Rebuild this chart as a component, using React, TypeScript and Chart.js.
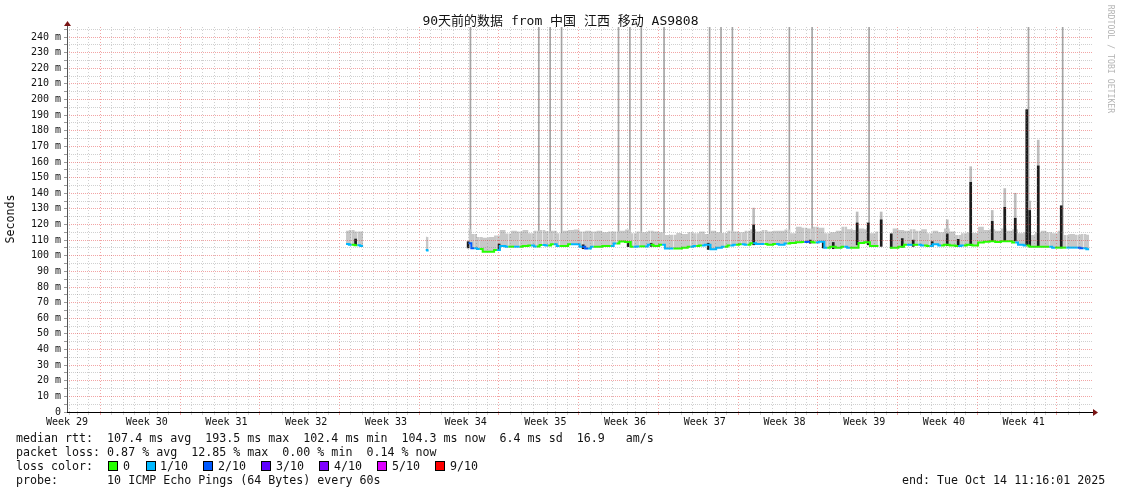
import React, { useEffect, useRef } from 'react';
import { Chart, registerables } from 'chart.js';

Chart.register(...registerables);

const MONO = "'DejaVu Sans Mono', 'Liberation Mono', monospace";
const TITLE_FONT = "'DejaVu Sans Mono', 'Noto Sans CJK SC', monospace";

const chartTitle = '90天前的数据 from 中国 江西 移动 AS9808';

// ---- x axis (days since start of the 90 day window) ----
const xMinDay = 0;
const xMaxDay = 90;
const weekLabelDays = [0, 7, 14, 21, 28, 35, 42, 49, 56, 63, 70, 77, 84];
const weekLabels = ['Week 29', 'Week 30', 'Week 31', 'Week 32', 'Week 33', 'Week 34', 'Week 35', 'Week 36', 'Week 37', 'Week 38', 'Week 39', 'Week 40', 'Week 41'];
const firstMidnightDay = 0.425;
const firstWeekStartDay = 3.425;

// ---- y axis (milliseconds) ----
const yMax = 246.4;
const yMajorTicks = [0, 10, 20, 30, 40, 50, 60, 70, 80, 90, 100, 110, 120, 130, 140, 150, 160, 170, 180, 190, 200, 210, 220, 230, 240];
const yMinorTicks = [5, 15, 25, 35, 45, 55, 65, 75, 85, 95, 105, 115, 125, 135, 145, 155, 165, 175, 185, 195, 205, 215, 225, 235, 245];

// ---- loss colours ----
const lossLegendLabels = ['0', '1/10', '2/10', '3/10', '4/10', '5/10', '9/10'];
const lossLegendColors = ['#26ff00', '#00b8ff', '#0059ff', '#5e00ff', '#7e00ff', '#dd00ff', '#ff0000'];

// ---- median rtt samples ----
const sampleDays = [
  24.5, 25.0, 25.5, 26.0, 26.5,
  31.5, 31.75, 32.0,
  35.25, 35.75, 36.25, 36.75, 37.25, 37.75, 38.25, 38.75, 39.25, 39.75,
  40.25, 40.75, 41.25, 41.75, 42.25, 42.75, 43.25, 43.75, 44.25, 44.75,
  45.25, 45.75, 46.25, 46.75, 47.25, 47.75, 48.25, 48.75, 49.25, 49.75,
  50.25, 50.75, 51.25, 51.75, 52.25, 52.75, 53.25, 53.75, 54.25, 54.75,
  55.25, 55.75, 56.25, 56.75, 57.25, 57.75, 58.25, 58.75, 59.25, 59.75,
  60.25, 60.75, 61.25, 61.75, 62.25, 62.75, 63.25, 63.75, 64.25, 64.75,
  65.25, 65.75, 66.25, 66.75, 67.25, 67.75, 68.25, 68.75, 69.25, 69.75,
  70.25, 70.75, 71.25, 71.75, 72.25, 72.75, 73.25, 73.75, 74.25, 74.75,
  75.25, 75.75, 76.25, 76.75, 77.25, 77.75, 78.25, 78.75, 79.25, 79.75,
  80.25, 80.75, 81.25, 81.75, 82.25, 82.75, 83.25, 83.75, 84.25, 84.75,
  85.25, 85.75, 86.25, 86.75, 87.25, 87.75, 88.25, 88.75, 89.25, 89.75,
];
const medianRtt = [
  107.5, 107.0, 106.8, 106.2, null,
  103.7, 103.4, null,
  108.0, 104.8, 104.3, 102.6, 102.6, 103.7, 106.2, 105.8, 105.8, 105.8,
  106.2, 106.5, 106.0, 106.9, 106.5, 107.3, 106.3, 106.3, 107.3, 107.3,
  105.8, 104.7, 105.8, 105.8, 106.2, 106.2, 107.9, 109.2, 108.8, 105.8,
  106.0, 106.0, 107.0, 106.2, 107.0, 104.7, 104.7, 104.7, 105.2, 105.8,
  106.2, 106.5, 107.0, 104.1, 105.2, 105.8, 106.5, 107.0, 107.3, 107.0,
  108.0, 107.5, 107.5, 107.0, 107.5, 107.0, 107.9, 108.2, 108.6, 108.8,
  109.0, 108.5, 109.0, 105.2, 105.8, 105.2, 105.8, 105.2, 105.2, 108.2,
  108.6, 106.2, 106.2, null, 105.2, 105.2, 105.8, 107.0, 107.0, 107.0,
  106.5, 106.2, 107.3, 106.5, 107.0, 106.5, 106.2, 106.5, 107.0, 106.5,
  108.5, 109.0, 109.3, 108.8, 109.3, 109.3, 108.5, 107.0, 106.5, 105.8,
  105.8, 105.8, 105.8, 105.2, 105.2, 105.2, 105.2, 105.2, 104.8, 104.1,
];
const lossLevel = [
  1, 0, 1, 2, 0,
  1, 0, 0,
  2, 1, 0, 0, 0, 1, 1, 0, 1, 0,
  0, 1, 0, 1, 0, 1, 0, 0, 1, 1,
  2, 1, 0, 0, 0, 1, 0, 0, 0, 1,
  0, 1, 0, 0, 1, 1, 0, 0, 0, 1,
  0, 1, 1, 1, 1, 0, 1, 0, 1, 0,
  1, 1, 0, 0, 1, 1, 0, 0, 0, 2,
  0, 1, 1, 0, 0, 0, 1, 0, 0, 0,
  0, 0, 1, 0, 0, 0, 0, 1, 0, 1,
  0, 1, 1, 0, 0, 0, 1, 0, 0, 0,
  0, 0, 0, 0, 0, 0, 1, 1, 0, 0,
  0, 0, 1, 0, 0, 1, 1, 2, 1, 1,
];
// top of the grey "smoke" (max of the 10 pings)
const smokeMax = [
  116.0, 116.5, 115.5, 115.5, null,
  112.2, 112.0, null,
  117.0, 114.0, 112.0, 111.5, 112.0, 113.0, 116.5, 114.3, 116.0, 115.5,
  116.5, 114.4, 116.0, 116.5, 115.7, 116.0, 114.4, 116.0, 116.5, 116.8,
  115.5, 116.0, 115.5, 116.0, 115.0, 115.5, 115.5, 116.0, 116.8, 114.4,
  115.5, 115.0, 116.0, 115.5, 115.0, 113.3, 113.5, 114.5, 114.0, 115.0,
  114.4, 115.5, 114.0, 116.0, 115.0, 114.5, 116.0, 115.5, 115.0, 116.0,
  117.0, 115.5, 116.5, 115.5, 116.0, 116.0, 116.8, 114.4, 118.5, 118.0,
  117.5, 118.5, 118.0, 114.4, 115.0, 116.0, 118.5, 117.0, 116.5, 117.5,
  117.0, 114.4, 115.5, null, 114.4, 117.5, 116.5, 116.0, 117.0, 116.0,
  117.0, 114.4, 116.0, 115.0, 117.5, 115.5, 113.3, 114.4, 115.0, 114.5,
  118.5, 116.5, 117.0, 116.0, 117.5, 116.0, 117.0, 114.4, 115.0, 113.3,
  115.0, 116.0, 115.0, 114.4, 116.0, 113.3, 114.0, 113.5, 114.0, 113.5,
];

// dark spikes (dense ping clusters well above the baseline)
const spikeDays = [25.34, 35.22, 37.94, 45.32, 49.27, 51.29, 56.3, 60.29, 65.26, 66.4, 67.28, 69.38, 70.35, 71.49, 72.37, 73.34, 74.3, 75.97, 77.29, 78.25, 79.35, 81.24, 82.34, 83.26, 84.27, 84.53, 85.28, 87.3];
const spikeLow = [106.5, 105.0, 103.5, 104.5, 105.8, 106.0, 104.0, 107.0, 108.0, 105.0, 104.5, 107.0, 107.0, 106.0, 105.0, 105.5, 106.0, 106.0, 106.5, 106.0, 106.5, 109.0, 109.0, 109.5, 107.0, 106.0, 106.0, 105.0];
const spikeHigh = [110.7, 109.0, 107.5, 107.0, 109.0, 108.0, 108.0, 119.7, 110.0, 109.0, 108.5, 121.0, 121.0, 123.0, 114.0, 111.0, 110.0, 109.0, 114.0, 110.5, 147.0, 122.0, 131.0, 124.0, 193.5, 129.0, 157.5, 132.0];

// light smoke above the spikes
const smokeSpikeDays = [60.29, 69.38, 71.49, 77.29, 79.35, 81.24, 82.34, 83.26, 84.53, 85.28];
const smokeSpikeTop = [130.5, 128.0, 128.0, 123.0, 157.0, 129.0, 143.0, 140.0, 135.0, 174.0];

// single outliers that run off the top of the graph
const outlierDays = [35.425, 41.425, 42.425, 43.425, 48.425, 49.425, 50.425, 52.425, 56.425, 57.425, 58.425, 63.425, 65.425, 70.425, 84.425, 87.425];
const outlierBase = 112;
const outlierTop = 260;

const statsLines = [
  'median rtt:  107.4 ms avg  193.5 ms max  102.4 ms min  104.3 ms now  6.4 ms sd  16.9   am/s',
  'packet loss: 0.87 % avg  12.85 % max  0.00 % min  0.14 % now',
];
const probeLine = 'probe:       10 ICMP Echo Pings (64 Bytes) every 60s';
const endLine = 'end: Tue Oct 14 11:16:01 2025';

const RED_GRID = 'rgba(225,40,40,0.42)';
const GREY_GRID = 'rgba(120,120,120,0.35)';

const isWeekStart = (v: number) => {
  const r = (((v - firstWeekStartDay) % 7) + 7) % 7;
  return r < 0.01 || r > 6.99;
};

const axisArrows = {
  id: 'axisArrows',
  afterDraw(chart: any) {
    const { ctx, chartArea: a } = chart;
    ctx.save();
    ctx.lineWidth = 1;
    ctx.strokeStyle = '#555';
    ctx.beginPath();
    ctx.moveTo(a.left + 0.5, a.bottom);
    ctx.lineTo(a.left + 0.5, a.top - 2);
    ctx.stroke();
    ctx.strokeStyle = '#000';
    ctx.beginPath();
    ctx.moveTo(a.left, a.bottom + 0.5);
    ctx.lineTo(a.right + 2, a.bottom + 0.5);
    ctx.stroke();
    ctx.fillStyle = '#7a1515';
    ctx.beginPath();
    ctx.moveTo(a.left + 0.5, a.top - 6);
    ctx.lineTo(a.left - 3, a.top - 1);
    ctx.lineTo(a.left + 4, a.top - 1);
    ctx.closePath();
    ctx.fill();
    ctx.beginPath();
    ctx.moveTo(a.right + 6, a.bottom + 0.5);
    ctx.lineTo(a.right + 1, a.bottom - 3);
    ctx.lineTo(a.right + 1, a.bottom + 4);
    ctx.closePath();
    ctx.fill();
    ctx.restore();
  },
};

function SmokeChart() {
  const ref = useRef<HTMLCanvasElement | null>(null);

  useEffect(() => {
    if (!ref.current) return;
    const medianPts = sampleDays.map((d, i) => ({ x: d, y: medianRtt[i] }));
    const smokePts = sampleDays.map((d, i) => ({ x: d, y: smokeMax[i] }));
    const spikePts = spikeDays.map((d, i) => ({ x: d, y: [spikeLow[i], spikeHigh[i]] }));
    const smokeSpikePts = smokeSpikeDays.map((d, i) => ({ x: d, y: [110, smokeSpikeTop[i]] }));
    const outlierPts = outlierDays.map((d) => ({ x: d, y: [outlierBase, outlierTop] }));

    const chart = new Chart(ref.current, {
      type: 'line',
      data: {
        datasets: [
          {
            type: 'line',
            data: medianPts as any,
            borderWidth: 2,
            pointRadius: 0,
            stepped: 'middle',
            spanGaps: false,
            borderCapStyle: 'butt',
            borderColor: lossLegendColors[0],
            segment: {
              borderColor: (ctx: any) => lossLegendColors[lossLevel[ctx.p0DataIndex]],
            },
            fill: false,
            order: 0,
          },
          {
            type: 'line',
            data: smokePts as any,
            borderWidth: 0,
            borderColor: 'rgba(0,0,0,0)',
            pointRadius: 0,
            stepped: 'middle',
            spanGaps: false,
            fill: '-1',
            backgroundColor: 'rgb(200,200,200)',
            order: 3,
          },
          {
            type: 'bar',
            data: spikePts as any,
            backgroundColor: '#1c1c1c',
            barThickness: 2,
            grouped: false,
            order: 1,
          },
          {
            type: 'bar',
            data: smokeSpikePts as any,
            backgroundColor: '#bdbdbd',
            barThickness: 2,
            grouped: false,
            order: 4,
          },
          {
            type: 'bar',
            data: outlierPts as any,
            backgroundColor: '#a4a4a4',
            barThickness: 1,
            grouped: false,
            order: 5,
          },
        ],
      },
      options: {
        responsive: false,
        animation: false,
        devicePixelRatio: 1,
        events: [],
        layout: { padding: { top: 27, right: 29, left: 0, bottom: 0 } },
        plugins: {
          legend: { display: false },
          tooltip: { enabled: false },
          title: { display: false },
        },
        scales: {
          x: {
            type: 'linear',
            min: xMinDay,
            max: xMaxDay,
            offset: false,
            afterBuildTicks: (scale: any) => {
              const vals: number[] = [];
              for (let k = 0; firstMidnightDay + k < xMaxDay; k++) vals.push(firstMidnightDay + k);
              weekLabelDays.forEach((d) => vals.push(d));
              vals.sort((a, b) => a - b);
              scale.ticks = vals.map((v) => ({ value: v }));
            },
            afterFit: (scale: any) => {
              scale.height = 82;
            },
            grid: {
              z: 1,
              lineWidth: 1,
              tickLength: 3,
              color: (ctx: any) => {
                const v = ctx.tick ? ctx.tick.value : 0;
                if (weekLabelDays.includes(v)) return 'rgba(0,0,0,0)';
                return isWeekStart(v) ? RED_GRID : GREY_GRID;
              },
            },
            border: { display: false, dash: [1, 2] },
            ticks: {
              autoSkip: false,
              maxRotation: 0,
              minRotation: 0,
              padding: 1,
              color: '#111',
              font: { family: MONO, size: 10 },
              callback: (value: any) => {
                const i = weekLabelDays.indexOf(Number(value));
                return i >= 0 ? weekLabels[i] : '';
              },
            },
          },
          y: {
            type: 'linear',
            min: 0,
            max: yMax,
            afterBuildTicks: (scale: any) => {
              const vals = [...yMajorTicks, ...yMinorTicks].sort((a, b) => a - b);
              scale.ticks = vals.map((v) => ({ value: v }));
            },
            afterFit: (scale: any) => {
              scale.width = 67;
            },
            grid: {
              z: 1,
              lineWidth: 1,
              tickLength: 3,
              tickColor: '#999',
              color: (ctx: any) => {
                const v = ctx.tick ? ctx.tick.value : 0;
                if (v === 0) return 'rgba(0,0,0,0)';
                return yMajorTicks.includes(v) ? RED_GRID : GREY_GRID;
              },
            },
            border: { display: false, dash: [1, 1] },
            ticks: {
              autoSkip: false,
              padding: 3,
              color: '#111',
              font: { family: MONO, size: 10 },
              callback: (value: any) => {
                const v = Number(value);
                if (!yMajorTicks.includes(v)) return '';
                return v === 0 ? '0' : `${v} m`;
              },
            },
          },
        },
      },
      plugins: [axisArrows],
    } as any);
    return () => chart.destroy();
  }, []);

  return <canvas ref={ref} width={1121} height={494} style={{ position: 'absolute', left: 0, top: 0 }} />;
}

const squareLefts = [108, 146, 203, 261, 319, 377, 435];
const squareTextLefts = [123, 160, 218, 276, 334, 392, 450];

export default function App() {
  const text: React.CSSProperties = {
    position: 'absolute',
    fontFamily: MONO,
    fontSize: '11.65px',
    lineHeight: '14px',
    whiteSpace: 'pre',
    color: '#111',
  };
  return (
    <div style={{ position: 'absolute', left: 0, top: 0, width: 1121, height: 494, background: '#fff', overflow: 'hidden' }}>
      <SmokeChart />
      <div
        style={{
          position: 'absolute', left: 0, top: 13, width: 1121, textAlign: 'center',
          fontFamily: TITLE_FONT, fontSize: '13px', lineHeight: '16px', color: '#111', whiteSpace: 'pre',
        }}
      >
        {chartTitle}
      </div>
      <div
        style={{
          ...text, left: -40, top: 212, width: 100, textAlign: 'center', transform: 'rotate(-90deg)',
        }}
      >
        Seconds
      </div>
      <div
        style={{
          position: 'absolute', left: 1051, top: 54, width: 120, height: 10, lineHeight: '10px', textAlign: 'center',
          fontFamily: MONO, fontSize: '8.2px', color: '#b4b4b4', transform: 'rotate(90deg)', whiteSpace: 'pre',
        }}
      >
        RRDTOOL / TOBI OETIKER
      </div>
      <div style={{ ...text, left: 16, top: 431 }}>{statsLines[0]}</div>
      <div style={{ ...text, left: 16, top: 445 }}>{statsLines[1]}</div>
      <div style={{ ...text, left: 16, top: 459 }}>loss color:</div>
      {lossLegendLabels.map((lab, i) => (
        <React.Fragment key={lab}>
          <div
            style={{
              position: 'absolute', left: squareLefts[i], top: 461, width: 10, height: 10,
              boxSizing: 'border-box', border: '1px solid #000', background: lossLegendColors[i],
            }}
          />
          <div style={{ ...text, left: squareTextLefts[i], top: 459 }}>{lab}</div>
        </React.Fragment>
      ))}
      <div style={{ ...text, left: 16, top: 473 }}>{probeLine}</div>
      <div style={{ ...text, left: 902, top: 473 }}>{endLine}</div>
    </div>
  );
}
